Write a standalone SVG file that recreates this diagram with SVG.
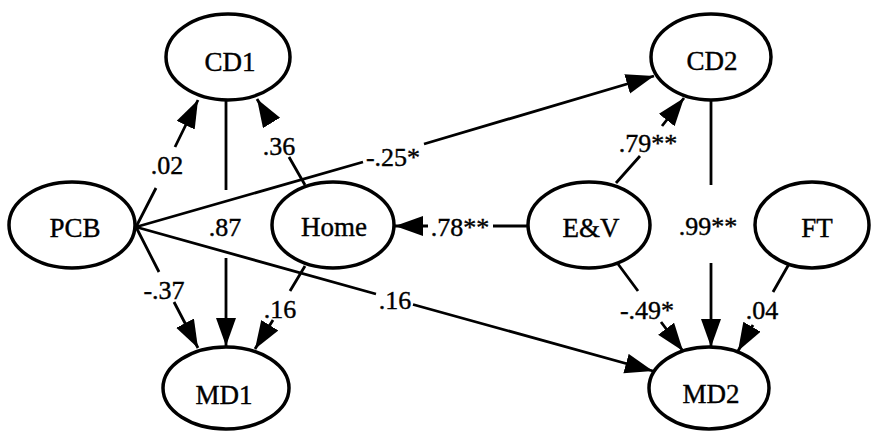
<svg xmlns="http://www.w3.org/2000/svg" width="872" height="432" viewBox="0 0 872 432">
<style>
.node ellipse{fill:#fff;stroke:#000;stroke-width:3.5}
.node text{font-family:"Liberation Serif","Times New Roman",serif;font-size:27px;text-anchor:middle;fill:#000;stroke:#000;stroke-width:0.4}
.conn path{fill:none;stroke:#000;stroke-width:2.8;marker-end:url(#ah)}
.lbl{font-family:"Liberation Serif","Times New Roman",serif;font-size:26px;text-anchor:middle;fill:#000;stroke:#000;stroke-width:0.4}
</style>
<defs>
<marker id="ah" markerUnits="userSpaceOnUse" markerWidth="30" markerHeight="22" refX="28" refY="10" orient="auto">
<path d="M0,0 L28,10 L0,20 z" fill="#000"/>
</marker>
</defs>
<rect width="872" height="432" fill="#fff"/>
<g id="connectors" class="conn">
<path d="M136,227 L156,188 M175,147 L198,100"/>
<path d="M136,227 L363,162 M424,144 L654,76"/>
<path d="M136,227 L159,272 M174,302 L198,348"/>
<path d="M136,227 L376,294 M413,304.5 L653,371"/>
<path d="M226,100 L226,190 M226,258 L226,346"/>
<path d="M305,185 L289,157 M271,122 L257,99"/>
<path d="M305,266 L290,291 M273,320 L255,349"/>
<path d="M528,226 L493,226 M428,226 L395,226"/>
<path d="M616,183 L640,156 M662,126 L684,98"/>
<path d="M711,100 L711,185 M711,263 L711,347"/>
<path d="M618,264 L638,291 M661,322 L683,351"/>
<path d="M789,264 L773,292 M753,325 L738,351"/>
</g>
<g id="labels">
<text class="lbl" x="167" y="174">.02</text>
<text class="lbl" x="393" y="166">-.25*</text>
<text class="lbl" x="164" y="299">-.37</text>
<text class="lbl" x="395" y="309">.16</text>
<text class="lbl" x="225" y="236">.87</text>
<text class="lbl" x="279" y="155">.36</text>
<text class="lbl" x="280" y="318">.16</text>
<text class="lbl" x="460" y="236">.78**</text>
<text class="lbl" x="648" y="152">.79**</text>
<text class="lbl" x="708" y="235">.99**</text>
<text class="lbl" x="647" y="319">-.49*</text>
<text class="lbl" x="762" y="319">.04</text>
</g>
<g id="CD1" class="node"><ellipse cx="228" cy="57" rx="62" ry="43"/><text x="230" y="71">CD1</text></g>
<g id="CD2" class="node"><ellipse cx="711" cy="57" rx="60" ry="43"/><text x="712" y="70">CD2</text></g>
<g id="PCB" class="node"><ellipse cx="72" cy="225" rx="63" ry="43"/><text x="75" y="237">PCB</text></g>
<g id="Home" class="node"><ellipse cx="333" cy="225" rx="61" ry="43"/><text x="334" y="236">Home</text></g>
<g id="EV" class="node"><ellipse cx="589" cy="225" rx="61" ry="43"/><text x="591" y="237">E&amp;V</text></g>
<g id="FT" class="node"><ellipse cx="812" cy="225" rx="57" ry="43"/><text x="817" y="237">FT</text></g>
<g id="MD1" class="node"><ellipse cx="226" cy="388" rx="63" ry="41"/><text x="224" y="404">MD1</text></g>
<g id="MD2" class="node"><ellipse cx="709" cy="388" rx="60" ry="41"/><text x="711" y="403">MD2</text></g>
</svg>
